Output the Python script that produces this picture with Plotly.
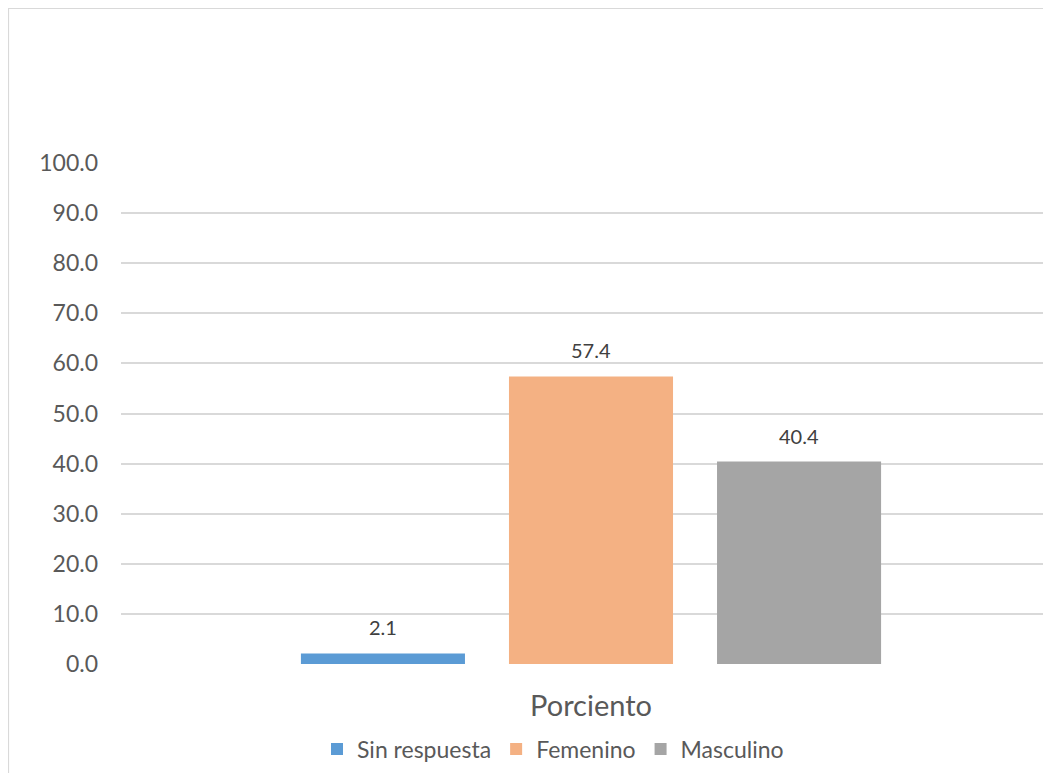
import plotly.graph_objects as go

categories = ["Porciento"]
series_names = ["Sin respuesta", "Femenino", "Masculino"]
series_values = [[2.1], [57.4], [40.4]]
series_colors = ["#5B9BD5", "#F4B183", "#A5A5A5"]
y_ticks = [0, 10, 20, 30, 40, 50, 60, 70, 80, 90, 100]

FONT = "Lato, Carlito, 'Liberation Sans', sans-serif"

# page has an 8px body margin; work in figure coordinates
OFF = 8
W, H = 1051 - OFF, 773 - OFF
L, R, T, B = 121 - OFF, 0, 163 - OFF, 773 - 664
pw = W - L - R
ph = H - T - B
BARGAP = 0.336
GROUPGAP = 0.2115

def px_x(p):
    return (p - OFF - L) / pw

def px_y(p):
    return (H - B - (p - OFF)) / ph

fig = go.Figure()
n = len(series_names)
annotations = []
for i, (name, vals, col) in enumerate(zip(series_names, series_values, series_colors)):
    fig.add_trace(go.Bar(
        x=categories, y=vals, name=name,
        marker=dict(color=col, line=dict(width=0)),
        cliponaxis=False,
    ))
    slot = (1 - BARGAP) / n
    for ci, v in enumerate(vals):
        annotations.append(dict(
            x=ci - (1 - BARGAP) / 2 + slot * (i + 0.5), y=v,
            xref="x", yref="y", text=f"{v:.1f}", showarrow=False,
            yanchor="middle", yshift=26,
            font=dict(family=FONT, size=20, color="#404040"),
        ))

fig.update_layout(
    width=W, height=H,
    margin=dict(l=L, r=R, t=T, b=B),
    paper_bgcolor="white", plot_bgcolor="white",
    barmode="group", bargap=BARGAP, bargroupgap=GROUPGAP,
    font=dict(family=FONT, color="#595959"),
    showlegend=True,
    legend=dict(orientation="h", x=px_x(553), xanchor="center",
                y=px_y(749), yanchor="middle",
                font=dict(family=FONT, size=23, color="#595959"),
                itemwidth=30, traceorder="normal"),
    xaxis=dict(type="category", range=[-0.5, -0.5 + pw / 940.0],
               showgrid=False, zeroline=False, showline=False, ticks="",
               tickfont=dict(family=FONT, size=29, color="#595959"),
               ticklabelstandoff=22),
    yaxis=dict(range=[0, 100], tickvals=y_ticks,
               ticktext=[f"{v:.1f}" for v in y_ticks],
               showgrid=True, gridcolor="#D9D9D9", gridwidth=1.5,
               zeroline=False, showline=False, ticks="",
               tickfont=dict(family=FONT, size=23, color="#595959"),
               ticklabelstandoff=22),
    annotations=annotations,
    shapes=[dict(type="rect", xref="paper", yref="paper",
                 x0=px_x(8.3), x1=px_x(1300), y0=px_y(1000), y1=px_y(8.3),
                 line=dict(color="#D9D9D9", width=1.6), fillcolor="rgba(0,0,0,0)",
                 layer="below")],
)

fig.write_html("out.html")
